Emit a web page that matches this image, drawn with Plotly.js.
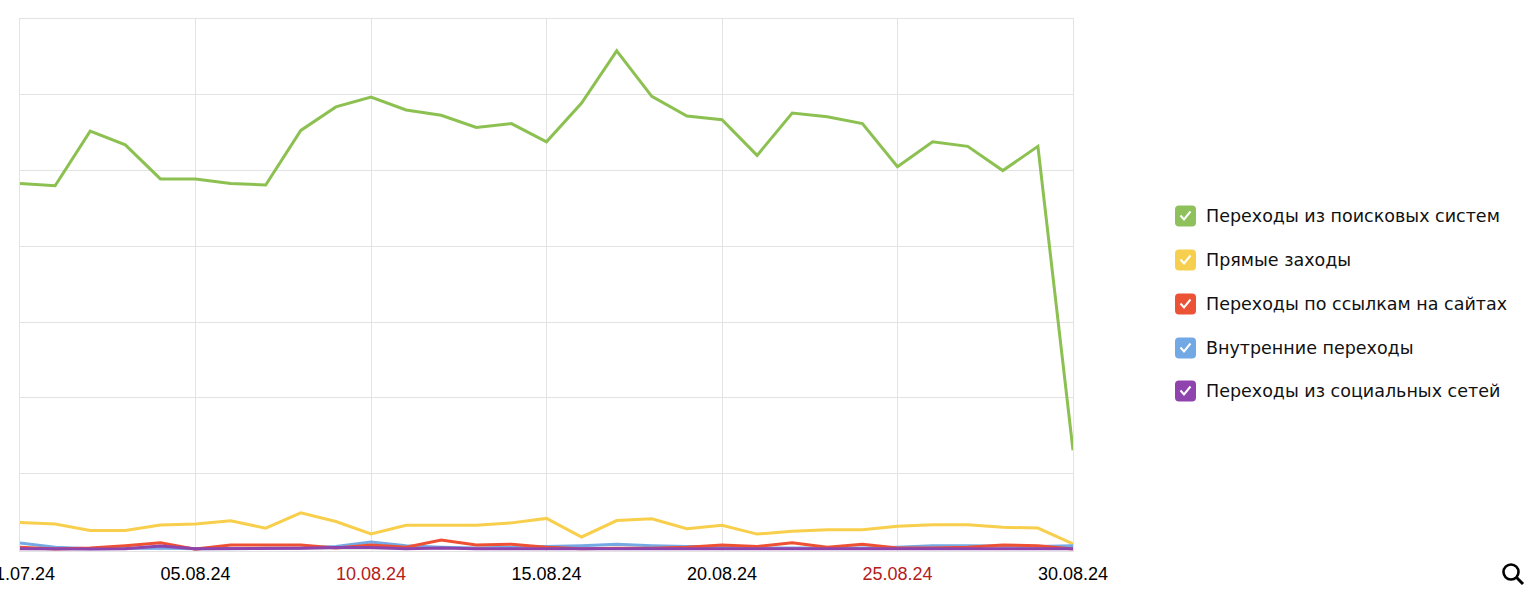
<!DOCTYPE html>
<html>
<head>
<meta charset="utf-8">
<script src="https://cdn.plot.ly/plotly-3.0.1.min.js"></script>
<style>
html,body{margin:0;padding:0;background:#fff;}
#chart{width:1536px;height:596px;}
</style>
</head>
<body>
<div id="chart"></div>
<script>
const dates = ["2024-07-31","2024-08-01","2024-08-02","2024-08-03","2024-08-04","2024-08-05","2024-08-06","2024-08-07","2024-08-08","2024-08-09","2024-08-10","2024-08-11","2024-08-12","2024-08-13","2024-08-14","2024-08-15","2024-08-16","2024-08-17","2024-08-18","2024-08-19","2024-08-20","2024-08-21","2024-08-22","2024-08-23","2024-08-24","2024-08-25","2024-08-26","2024-08-27","2024-08-28","2024-08-29","2024-08-30"];

const seriesNames = ["Переходы из поисковых систем","Прямые заходы","Переходы по ссылкам на сайтах","Внутренние переходы","Переходы из социальных сетей"];

const searchVisits = [483,480,552,534,489,489,483,481,553,584,597,580,573,557,562,538,589,658,598,572,567,520,576,571,562,505,538,532,500,532,131];
const directVisits = [35.5,33.7,25,25,32.3,33.7,37.8,28.2,48.3,36.9,20.5,31.9,31.9,31.9,35.1,41,16.5,38.2,40.6,27.4,32,20.3,24,26,26,30.7,32.5,32.5,29.2,28.3,7.5];
const linkVisits = [3,0.5,2,5,9,0.5,6,6,6,2,6,3,12.5,6,7,3,1,1.5,1.5,3,6,4,9,3,7,2,2,3,6,5,0.5];
const internalVisits = [8.5,3,1,1.5,2,1,1,1.5,2,4,10,5,3,2,3,4,5,7,5,4,4,2,2,2,2,3,5,5,4,4,5];
const socialVisits = [1,0.5,0.5,1,4.5,1,1,1,1.5,2.5,2.5,1,2,1,1,1.5,1,1,1,1,1,1,1,1,1.5,1,1,1,1.5,1,1];

const tickDates = ["2024-07-31","2024-08-05","2024-08-10","2024-08-15","2024-08-20","2024-08-25","2024-08-30"];
const tickLabels = ["31.07.24","05.08.24","10.08.24","15.08.24","20.08.24","25.08.24","30.08.24"];
const weekendTicks = ["10.08.24","25.08.24"];

const colors = ["#8cc152","#f8cf4c","#ee5034","#74a9e4","#8e44ad"];
const legendColors = ["#8ec15c","#f7cf4f","#ec5235","#72a8e3","#8f43ad"];

const values = [searchVisits, directVisits, linkVisits, internalVisits, socialVisits];
const drawOrder = [0,1,3,2,4];

const traces = drawOrder.map(i => ({
  type: "scatter",
  mode: "lines",
  x: dates,
  y: values[i],
  name: seriesNames[i],
  line: {color: colors[i], width: 3},
  hoverinfo: "skip"
}));

const L = 20, R = 1073, T = 19, B = 551, W = 1536, H = 596;
const px2x = p => (p - L) / (R - L);
const py2y = p => (B - p) / (B - T);

const shapes = [];
const annotations = [];
const legendY = [216, 260, 304, 348, 391];
function rr(s, r) {
  return `M ${-s+r},${-s} L ${s-r},${-s} Q ${s},${-s} ${s},${-s+r} L ${s},${s-r} Q ${s},${s} ${s-r},${s} L ${-s+r},${s} Q ${-s},${s} ${-s},${s-r} L ${-s},${-s+r} Q ${-s},${-s} ${-s+r},${-s} Z`;
}
seriesNames.forEach((n, i) => {
  const cy = py2y(legendY[i]);
  const cx = px2x(1185.5);
  shapes.push({type: "path", xref: "paper", yref: "paper", xsizemode: "pixel", ysizemode: "pixel",
    xanchor: cx, yanchor: cy, path: rr(10.5, 4), fillcolor: legendColors[i], line: {width: 0}});
  shapes.push({type: "path", xref: "paper", yref: "paper", xsizemode: "pixel", ysizemode: "pixel",
    xanchor: cx, yanchor: cy, path: "M -5,0.5 L -1.5,-3.5 L 5,4.5", line: {color: "#ffffff", width: 2}});
  annotations.push({xref: "paper", yref: "paper", x: px2x(1204), y: cy, xanchor: "left", yanchor: "middle",
    text: n, showarrow: false, font: {size: 17.5, color: "#111", family: "DejaVu Sans, sans-serif"}});
});
// magnifier icon
shapes.push({type: "circle", xref: "paper", yref: "paper", xsizemode: "pixel", ysizemode: "pixel",
  xanchor: px2x(1511), yanchor: py2y(572), x0: -7.5, x1: 7.5, y0: -7.5, y1: 7.5, line: {color: "#000", width: 2.6}});
shapes.push({type: "line", xref: "paper", yref: "paper", xsizemode: "pixel", ysizemode: "pixel",
  xanchor: px2x(1511), yanchor: py2y(572), x0: 5.3, y0: -5.3, x1: 12, y1: -12, line: {color: "#000", width: 3}});

const layout = {
  width: W, height: H,
  margin: {l: L, r: W - R, t: T, b: H - B, pad: 0},
  paper_bgcolor: "#fff", plot_bgcolor: "#fff",
  showlegend: false,
  font: {family: "Liberation Sans, Arial, sans-serif", size: 18, color: "#000"},
  xaxis: {
    type: "date",
    range: ["2024-07-31", "2024-08-30"],
    tickvals: tickDates,
    ticktext: tickLabels.map(t => weekendTicks.includes(t) ? `<span style="color:#b3201c">${t}</span>` : t),
    ticklabeloverflow: "allow",
    ticklabelstandoff: 6,
    showgrid: true, gridcolor: "#e3e3e3", gridwidth: 1,
    showline: true, linecolor: "#e3e3e3", linewidth: 1, mirror: true,
    zeroline: false, ticks: "", tickfont: {size: 18, color: "#000"},
    fixedrange: true
  },
  yaxis: {
    range: [-2, 700],
    dtick: 100, tick0: 0,
    showticklabels: false,
    showgrid: true, gridcolor: "#e3e3e3", gridwidth: 1,
    showline: true, linecolor: "#e3e3e3", linewidth: 1, mirror: true,
    zeroline: false, ticks: "",
    fixedrange: true
  },
  shapes: shapes,
  annotations: annotations
};

Plotly.newPlot("chart", traces, layout, {displayModeBar: false, staticPlot: true});
</script>
</body>
</html>
